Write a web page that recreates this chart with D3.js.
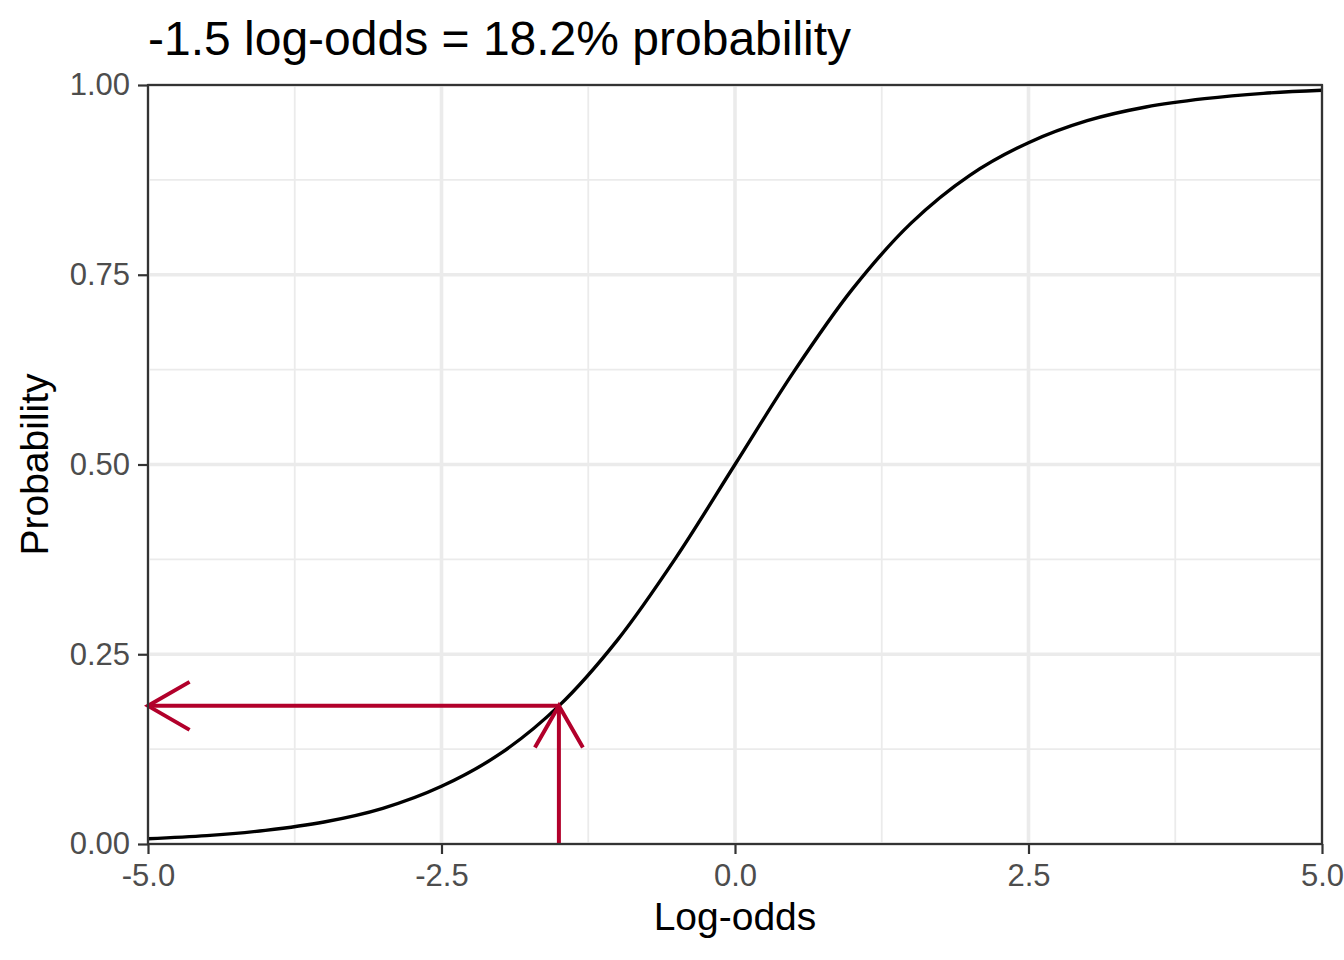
<!DOCTYPE html>
<html>
<head>
<meta charset="utf-8">
<script src="https://cdn.jsdelivr.net/npm/d3@7"></script>
<style>
  body { margin: 0; background: #fff; }
  text { font-family: "Liberation Sans", Arial, Helvetica, sans-serif; }
</style>
</head>
<body>
<svg id="chart"></svg>
<script>
// values
let logOdds = [-5, -4.5, -4, -3.5, -3, -2.5, -2, -1.5, -1, -0.5, 0, 0.5, 1, 1.5, 2, 2.5, 3, 3.5, 4, 4.5, 5];
let probs = [0.007, 0.011, 0.018, 0.029, 0.047, 0.076, 0.119, 0.182, 0.269, 0.378, 0.5, 0.622, 0.731, 0.818, 0.881, 0.924, 0.953, 0.971, 0.982, 0.989, 0.993];

let xTicks = [-5, -2.5, 0, 2.5, 5];
let xMinor = [-3.75, -1.25, 1.25, 3.75];
let yTicks = [0, 0.25, 0.5, 0.75, 1];
let yMinor = [0.125, 0.375, 0.625, 0.875];

// arrows: up from the axis to the curve, then left to the y axis
let arrowX1 = [-1.5, -1.5];
let arrowY1 = [0, 0.182];
let arrowX2 = [-1.5, -5];
let arrowY2 = [0.182, 0.182];

let titleText = "-1.5 log-odds = 18.2% probability";

let size = {width: 1344, height: 960};
let panel = {left: 148, right: 1322, top: 85, bottom: 844};

let svg = d3.select('#chart')
  .attr("width", size.width)
  .attr("height", size.height);

let x = d3.scaleLinear().domain([-5, 5]).range([panel.left, panel.right]);
let y = d3.scaleLinear().domain([0, 1]).range([panel.bottom, panel.top]);

let grid = svg.append("g").attr("id", "grid");

// minor grid
grid.selectAll(".xminor").data(xMinor).enter().append("line")
  .attr("x1", d => x(d)).attr("x2", d => x(d))
  .attr("y1", panel.top).attr("y2", panel.bottom)
  .attr("stroke", "#ebebeb").attr("stroke-width", 1.8);
grid.selectAll(".yminor").data(yMinor).enter().append("line")
  .attr("y1", d => y(d)).attr("y2", d => y(d))
  .attr("x1", panel.left).attr("x2", panel.right)
  .attr("stroke", "#ebebeb").attr("stroke-width", 1.8);

// major grid
grid.selectAll(".xmajor").data(xTicks).enter().append("line")
  .attr("x1", d => x(d)).attr("x2", d => x(d))
  .attr("y1", panel.top).attr("y2", panel.bottom)
  .attr("stroke", "#ebebeb").attr("stroke-width", 3.6);
grid.selectAll(".ymajor").data(yTicks).enter().append("line")
  .attr("y1", d => y(d)).attr("y2", d => y(d))
  .attr("x1", panel.left).attr("x2", panel.right)
  .attr("stroke", "#ebebeb").attr("stroke-width", 3.6);

// curve
let curveData = logOdds.map((d, i) => ({x: d, p: probs[i]}));
svg.append("path")
  .datum(curveData)
  .attr("fill", "none")
  .attr("stroke", "black")
  .attr("stroke-width", 3.4)
  .attr("d", d3.line()
    .curve(d3.curveCatmullRom)
    .x(d => x(d.x))
    .y(d => y(d.p)));

// arrows (open heads, 30 degrees, ~48px)
let arrowColor = "#b2002b";
let headLen = 48, headAng = Math.PI / 6;
let arrows = svg.append("g").attr("id", "arrows");
for (let i = 0; i < arrowX1.length; i++) {
  let x1 = x(arrowX1[i]), y1 = y(arrowY1[i]);
  let x2 = x(arrowX2[i]), y2 = y(arrowY2[i]);
  let ang = Math.atan2(y2 - y1, x2 - x1);
  arrows.append("line")
    .attr("x1", x1).attr("y1", y1).attr("x2", x2).attr("y2", y2)
    .attr("stroke", arrowColor).attr("stroke-width", 4);
  let pts = [
    [x2 - headLen * Math.cos(ang - headAng), y2 - headLen * Math.sin(ang - headAng)],
    [x2, y2],
    [x2 - headLen * Math.cos(ang + headAng), y2 - headLen * Math.sin(ang + headAng)]
  ];
  arrows.append("path")
    .attr("d", d3.line()(pts))
    .attr("fill", "none")
    .attr("stroke", arrowColor)
    .attr("stroke-width", 4);
}

// panel border
svg.append("rect")
  .attr("x", panel.left).attr("y", panel.top)
  .attr("width", panel.right - panel.left)
  .attr("height", panel.bottom - panel.top)
  .attr("fill", "none")
  .attr("stroke", "#333333")
  .attr("stroke-width", 2.2);

// axes (plain hyphen for negatives, like the reference)
let fmtX = d => d3.format(".1f")(d).replace("\u2212", "-");
let fmtY = d => d3.format(".2f")(d);
let xAxis = svg.append("g")
  .attr("transform", `translate(0,${panel.bottom})`)
  .call(d3.axisBottom(x).tickValues(xTicks).tickFormat(fmtX).tickSize(10).tickPadding(9));
let yAxis = svg.append("g")
  .attr("transform", `translate(${panel.left},0)`)
  .call(d3.axisLeft(y).tickValues(yTicks).tickFormat(fmtY).tickSize(10).tickPadding(8));

[xAxis, yAxis].forEach(a => {
  a.select(".domain").remove();
  a.selectAll(".tick line").attr("stroke", "#333333").attr("stroke-width", 2.2);
  a.selectAll(".tick text")
    .attr("fill", "#4d4d4d")
    .attr("font-size", "31px")
    .attr("font-family", "Liberation Sans, Arial, Helvetica, sans-serif");
});
xAxis.selectAll(".tick text").attr("dy", "0.75em");

// titles
svg.append("text")
  .attr("x", panel.left).attr("y", 55)
  .attr("font-size", "48px")
  .attr("fill", "black")
  .text(titleText);

svg.append("text")
  .attr("x", (panel.left + panel.right) / 2).attr("y", 930)
  .attr("text-anchor", "middle")
  .attr("font-size", "39px")
  .attr("fill", "black")
  .text("Log-odds");

svg.append("text")
  .attr("transform", `translate(48,${(panel.top + panel.bottom) / 2}) rotate(-90)`)
  .attr("text-anchor", "middle")
  .attr("font-size", "39px")
  .attr("fill", "black")
  .text("Probability");
</script>
</body>
</html>
